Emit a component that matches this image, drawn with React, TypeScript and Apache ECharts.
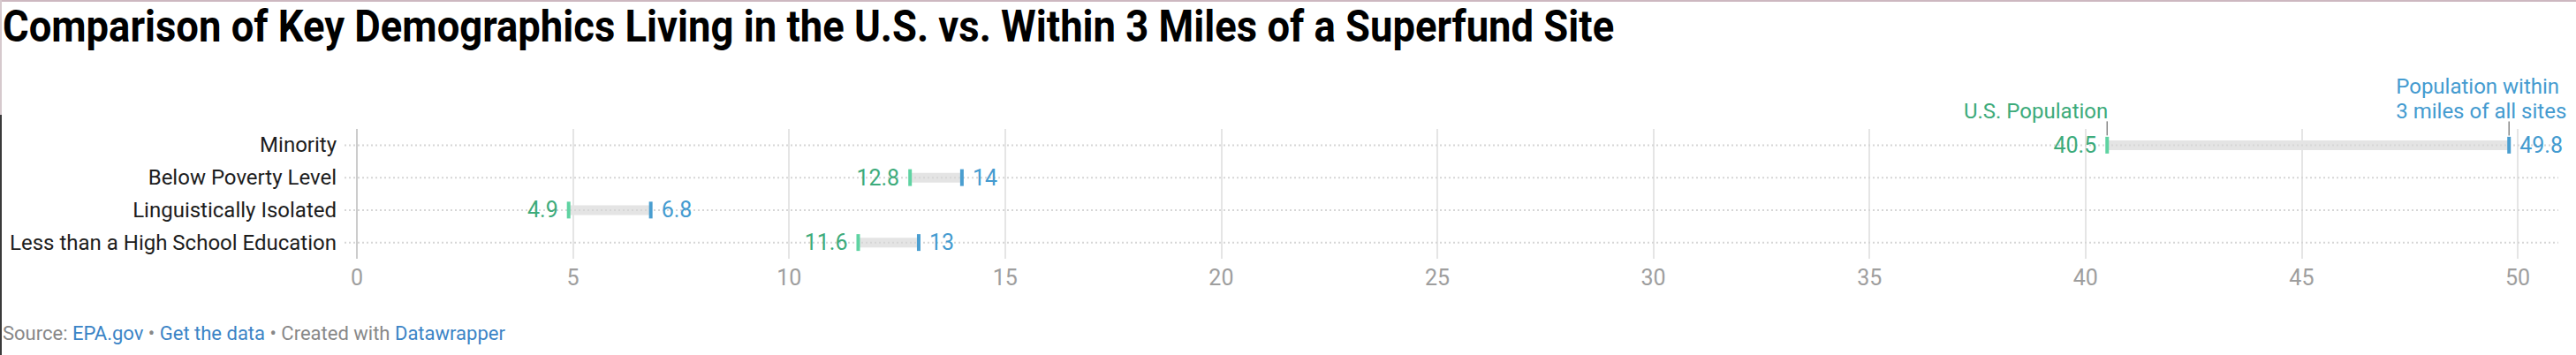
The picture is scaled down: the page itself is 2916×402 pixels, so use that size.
import React, { useEffect, useRef } from "react";
import * as echarts from "echarts";

const categories = [
  "Minority",
  "Below Poverty Level",
  "Linguistically Isolated",
  "Less than a High School Education",
];
const usPopulation = [40.5, 12.8, 4.9, 11.6];
const nearSites = [49.8, 14, 6.8, 13];
const xTicks = [0, 5, 10, 15, 20, 25, 30, 35, 40, 45, 50];

const titleText =
  "Comparison of Key Demographics Living in the U.S. vs. Within 3 Miles of a Superfund Site";
const legendUS = "U.S. Population";
const legendNear = ["Population within", "3 miles of all sites"];

const FONT = "Roboto";
const GREEN_MARK = "#5fd3a2";
const GREEN_TEXT = "#3dab7b";
const BLUE_MARK = "#4a9ed0";
const BLUE_TEXT = "#449bd0";

function measure(text: string, font: string): number {
  const c = document.createElement("canvas").getContext("2d");
  if (!c) return 0;
  c.font = font;
  return c.measureText(text).width;
}

export default function App() {
  const ref = useRef<HTMLDivElement>(null);

  useEffect(() => {
    document.body.style.margin = "0";
    if (!ref.current) return;
    const chart = echarts.init(ref.current, undefined, { renderer: "svg" });

    const xMin = xTicks[0];
    const xMax = xTicks[xTicks.length - 1];
    const titleW = measure(titleText, `bold 49px ${FONT}`);
    const titleScale = titleW > 0 ? 1824 / titleW : 0.8;

    const data = categories.map((_, i) => [i, usPopulation[i], nearSites[i]]);

    const gridColors = xTicks.map((_, i) => (i === 0 ? "#cccccc" : "#e5e5e5"));

    const option: any = {
      animation: false,
      backgroundColor: "#ffffff",
      grid: { left: 404, right: 66, top: 146, height: 147, containLabel: false },
      xAxis: {
        type: "value",
        min: xMin,
        max: xMax,
        interval: xTicks[1] - xTicks[0],
        axisLine: { show: false },
        axisTick: { show: false },
        splitLine: { show: true, lineStyle: { color: gridColors, width: 2 } },
        axisLabel: { color: "#9e9e9e", fontSize: 25, fontFamily: FONT, margin: 9 },
      },
      yAxis: {
        type: "category",
        data: categories,
        inverse: true,
        axisLine: { show: false },
        axisTick: { show: false },
        splitLine: { show: false },
        axisLabel: { color: "#1d1d1d", fontSize: 24, fontFamily: FONT, margin: 23 },
      },
      graphic: [
        { type: "rect", shape: { x: 0, y: 0, width: 2916, height: 2 }, style: { fill: "#cdb8c0" } },
        { type: "rect", shape: { x: 0, y: 0, width: 2, height: 130 }, style: { fill: "#d6c9cd" } },
        { type: "rect", shape: { x: 0, y: 130, width: 2, height: 272 }, style: { fill: "#3a3a3a" } },
        {
          type: "text",
          x: 3,
          y: 30,
          scaleX: titleScale,
          style: {
            text: titleText,
            fill: "#000000",
            fontSize: 49,
            fontWeight: "bold",
            fontFamily: FONT,
            align: "left",
            verticalAlign: "middle",
          },
        },
        {
          type: "text",
          x: 3,
          y: 377,
          style: {
            text:
              "{g|Source: }{b|EPA.gov}{g| • }{b|Get the data}{g| • Created with }{b|Datawrapper}",
            align: "left",
            verticalAlign: "middle",
            rich: {
              g: { fill: "#888888", fontSize: 22, fontFamily: FONT },
              b: { fill: "#3b84c6", fontSize: 22, fontFamily: FONT },
            },
          },
        },
      ],
      series: [
        {
          type: "custom",
          data,
          encode: { x: [1, 2], y: 0 },
          renderItem: (params: any, api: any) => {
            const i = api.value(0);
            const a = api.value(1);
            const b = api.value(2);
            const pa = api.coord([a, i]);
            const pb = api.coord([b, i]);
            const y = pa[1];
            const left = api.coord([xMin, i])[0] - 14;
            const right = api.coord([xMax, i])[0] + 46;
            const children: any[] = [
              {
                type: "rect",
                shape: { x: pa[0], y: y - 5.5, width: pb[0] - pa[0], height: 11 },
                style: { fill: "#e4e4e4" },
              },
              {
                type: "line",
                shape: { x1: left, y1: y, x2: right, y2: y },
                style: { stroke: "#d6d6d6", lineWidth: 2, lineDash: [2, 3] },
              },
              {
                type: "rect",
                shape: { x: pa[0] - 2, y: y - 9.5, width: 4, height: 19 },
                style: { fill: GREEN_MARK },
              },
              {
                type: "rect",
                shape: { x: pb[0] - 2, y: y - 9.5, width: 4, height: 19 },
                style: { fill: BLUE_MARK },
              },
              {
                type: "text",
                x: pa[0] - 12,
                y: y,
                style: {
                  text: String(a),
                  fill: GREEN_TEXT,
                  fontSize: 25,
                  fontFamily: FONT,
                  align: "right",
                  verticalAlign: "middle",
                },
              },
              {
                type: "text",
                x: pb[0] + 12,
                y: y,
                style: {
                  text: String(b),
                  fill: BLUE_TEXT,
                  fontSize: 25,
                  fontFamily: FONT,
                  align: "left",
                  verticalAlign: "middle",
                },
              },
            ];
            if (params.dataIndex === 0) {
              children.push(
                {
                  type: "line",
                  shape: { x1: pa[0], y1: y - 27, x2: pa[0], y2: y - 11 },
                  style: { stroke: "#888888", lineWidth: 1.5 },
                },
                {
                  type: "line",
                  shape: { x1: pb[0], y1: y - 27, x2: pb[0], y2: y - 11 },
                  style: { stroke: "#888888", lineWidth: 1.5 },
                },
                {
                  type: "text",
                  x: pa[0] + 1,
                  y: y - 38,
                  style: {
                    text: legendUS,
                    fill: GREEN_TEXT,
                    fontSize: 24,
                    fontFamily: FONT,
                    align: "right",
                    verticalAlign: "middle",
                  },
                },
                {
                  type: "text",
                  x: pb[0] - 128,
                  y: y - 66,
                  style: {
                    text: legendNear[0],
                    fill: BLUE_TEXT,
                    fontSize: 24,
                    fontFamily: FONT,
                    align: "left",
                    verticalAlign: "middle",
                  },
                },
                {
                  type: "text",
                  x: pb[0] - 128,
                  y: y - 38,
                  style: {
                    text: legendNear[1],
                    fill: BLUE_TEXT,
                    fontSize: 24,
                    fontFamily: FONT,
                    align: "left",
                    verticalAlign: "middle",
                  },
                }
              );
            }
            return { type: "group", children };
          },
        },
      ],
    };

    chart.setOption(option);
    return () => chart.dispose();
  }, []);

  return <div ref={ref} style={{ width: 2916, height: 402 }} />;
}
